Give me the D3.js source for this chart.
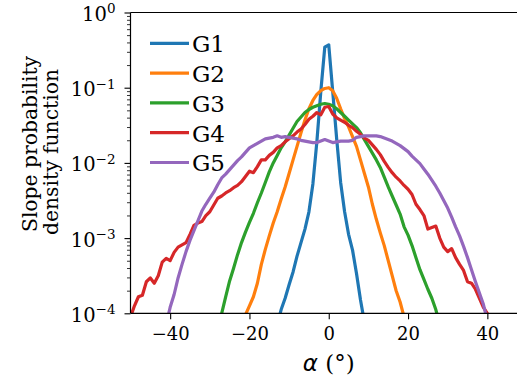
<!DOCTYPE html>
<html><head><meta charset="utf-8">
<script src="https://cdn.jsdelivr.net/npm/d3@7"></script>
<style>body{margin:0;background:#fff} svg{display:block}</style>
</head><body><svg id="c" width="517" height="381"></svg>
<script>
// ---- data (stored as log10 of the density) ----
const seriesNames = ["G1", "G2", "G3", "G4", "G5"];
const seriesColors = ["#1f77b4", "#ff7f0e", "#2ca02c", "#d62728", "#9467bd"];
// first slope angle (deg) of each series; samples are 1 deg apart
const seriesStartAlpha = [-13, -22, -28, -50, -42];
const g1Log10 = [-4.15,-3.95,-3.80,-3.62,-3.45,-3.24,-3.06,-2.88,-2.65,-2.28,-1.72,-1.05,-0.46,-0.43,-1.05,-1.68,-2.26,-2.65,-2.95,-3.16,-3.47,-3.82,-4.12];
const g2Log10 = [-4.25,-4.02,-3.90,-3.78,-3.60,-3.35,-3.15,-2.97,-2.80,-2.65,-2.48,-2.32,-2.14,-1.96,-1.78,-1.60,-1.43,-1.28,-1.17,-1.09,-1.04,-1.01,-1.00,-1.04,-1.14,-1.28,-1.41,-1.52,-1.65,-1.78,-1.96,-2.14,-2.32,-2.55,-2.75,-2.93,-3.10,-3.30,-3.50,-3.70,-3.85,-4.05,-4.30];
const g3Log10 = [-4.20,-4.00,-3.78,-3.57,-3.40,-3.22,-3.06,-2.92,-2.79,-2.67,-2.53,-2.40,-2.26,-2.12,-2.00,-1.90,-1.80,-1.72,-1.63,-1.54,-1.45,-1.39,-1.33,-1.29,-1.26,-1.24,-1.22,-1.21,-1.22,-1.24,-1.28,-1.33,-1.38,-1.43,-1.48,-1.53,-1.60,-1.69,-1.78,-1.87,-1.96,-2.06,-2.19,-2.32,-2.44,-2.56,-2.68,-2.85,-2.96,-3.10,-3.26,-3.42,-3.55,-3.68,-3.80,-3.95,-4.15];
const g4Log10 = [-4.05,-3.90,-3.78,-3.76,-3.58,-3.53,-3.60,-3.50,-3.32,-3.27,-3.30,-3.19,-3.12,-3.09,-3.06,-2.95,-2.83,-2.80,-2.78,-2.70,-2.65,-2.56,-2.47,-2.44,-2.40,-2.37,-2.33,-2.30,-2.25,-2.18,-2.11,-2.13,-2.05,-1.96,-1.96,-1.90,-1.86,-1.80,-1.77,-1.72,-1.68,-1.64,-1.59,-1.55,-1.49,-1.42,-1.38,-1.33,-1.36,-1.26,-1.25,-1.35,-1.40,-1.43,-1.46,-1.50,-1.53,-1.58,-1.62,-1.67,-1.70,-1.76,-1.82,-1.89,-1.98,-2.06,-2.13,-2.19,-2.24,-2.30,-2.35,-2.42,-2.55,-2.62,-2.70,-2.88,-2.86,-2.84,-3.00,-3.12,-3.18,-3.14,-3.26,-3.35,-3.43,-3.58,-3.60,-3.68,-3.80,-3.92,-4.00,-4.20];
const g5Log10 = [-4.35,-4.15,-3.92,-3.75,-3.53,-3.35,-3.18,-3.03,-2.90,-2.77,-2.64,-2.55,-2.47,-2.39,-2.29,-2.20,-2.15,-2.09,-2.03,-1.97,-1.92,-1.86,-1.80,-1.77,-1.74,-1.71,-1.68,-1.67,-1.66,-1.64,-1.66,-1.65,-1.66,-1.67,-1.68,-1.70,-1.71,-1.72,-1.73,-1.73,-1.71,-1.69,-1.71,-1.73,-1.72,-1.71,-1.71,-1.71,-1.70,-1.66,-1.65,-1.64,-1.64,-1.64,-1.64,-1.65,-1.67,-1.69,-1.71,-1.74,-1.77,-1.81,-1.85,-1.91,-1.96,-2.01,-2.08,-2.15,-2.23,-2.31,-2.40,-2.50,-2.60,-2.72,-2.85,-2.97,-3.11,-3.26,-3.42,-3.58,-3.73,-3.88,-4.10,-4.35];
const seriesLog10 = [g1Log10, g2Log10, g3Log10, g4Log10, g5Log10];
const xTicks = [-40, -20, 0, 20, 40];
const yTickExponents = [0, -1, -2, -3, -4];
const xDomain = [-50, 50];
const yDomain = [1e-4, 1];

// ---- layout ----
const svg = d3.select("#c");
const L = 130.5, R = 527, T = 12.5, B = 313.3;
const x = d3.scaleLinear().domain(xDomain).range([L, R]);
const y = d3.scaleLog().domain(yDomain).range([B, T]);
const serif = "DejaVu Serif";

svg.append("defs").append("clipPath").attr("id", "clip")
  .append("rect").attr("x", L).attr("y", T).attr("width", R - L).attr("height", B - T);

// curves
const line = d3.line().x(d => x(d.a)).y(d => y(d.v)).curve(d3.curveLinear);
const gLines = svg.append("g").attr("clip-path", "url(#clip)");
seriesNames.forEach((name, i) => {
  const pts = seriesLog10[i].map((e, k) => ({a: seriesStartAlpha[i] + k, v: Math.pow(10, e)}));
  gLines.append("path").datum(pts)
    .attr("d", line).attr("fill", "none")
    .attr("stroke", seriesColors[i]).attr("stroke-width", 3.2)
    .attr("stroke-linejoin", "round").attr("stroke-linecap", "square");
});

// x axis
const xAxis = svg.append("g").attr("transform", `translate(0,${B})`)
  .call(d3.axisBottom(x).tickValues(xTicks).tickSize(6).tickPadding(4)
    .tickFormat(d => d < 0 ? "\u2212" + Math.abs(d) : String(d)));
xAxis.select(".domain").remove();
xAxis.selectAll(".tick line").attr("stroke", "#000").attr("stroke-width", 1.1);
xAxis.selectAll(".tick text").attr("font-family", serif).attr("font-size", 18).attr("fill", "#000")
  .attr("dy", "0.95em");

// y axis major
const yAxis = svg.append("g").attr("transform", `translate(${L},0)`)
  .call(d3.axisLeft(y).tickValues(yTickExponents.map(e => Math.pow(10, e))).tickSize(6).tickPadding(9).tickFormat(""));
yAxis.select(".domain").remove();
yAxis.selectAll(".tick line").attr("stroke", "#000").attr("stroke-width", 1.1);
yAxis.selectAll(".tick text").each(function(d, i) {
  const t = d3.select(this);
  const e = Math.round(Math.log10(d));
  t.attr("font-family", serif).attr("fill", "#000").attr("dy", null).attr("y", 8).attr("x", -15);
  t.append("tspan").attr("font-size", 19.5).text("10");
  t.append("tspan").attr("font-size", 13.5).attr("dy", -7.7).text(e < 0 ? "\u2212" + Math.abs(e) : String(e));
});

// y axis minor
const minorVals = [];
yTickExponents.slice(1).forEach(e => { for (let m = 2; m <= 9; m++) minorVals.push(m * Math.pow(10, e)); });
const yMinor = svg.append("g").attr("transform", `translate(${L},0)`)
  .call(d3.axisLeft(y).tickValues(minorVals).tickSize(3.5).tickFormat(""));
yMinor.select(".domain").remove();
yMinor.selectAll(".tick line").attr("stroke", "#000").attr("stroke-width", 0.8);

// spines
const sp = svg.append("g").attr("stroke", "#000").attr("stroke-width", 1.2).attr("fill", "none");
sp.append("line").attr("x1", L).attr("x2", L).attr("y1", T).attr("y2", B);
sp.append("line").attr("x1", L).attr("x2", R).attr("y1", T).attr("y2", T);
sp.append("line").attr("x1", L).attr("x2", R).attr("y1", B).attr("y2", B);
sp.append("line").attr("x1", R).attr("x2", R).attr("y1", T).attr("y2", B);

// x label
const xl = svg.append("text").attr("x", (L + R) / 2).attr("y", 371)
  .attr("text-anchor", "middle").attr("font-family", serif).attr("font-size", 23).attr("fill", "#000");
xl.append("tspan").attr("font-family", "DejaVu Sans").attr("font-style", "italic").text("\u03b1");
xl.append("tspan").text(" (\u00b0)");

// y label (two lines)
svg.append("text").attr("transform", "translate(37,144) rotate(-90)")
  .attr("text-anchor", "middle").attr("font-family", serif).attr("font-size", 20.3).attr("fill", "#000")
  .text("Slope probability");
svg.append("text").attr("transform", "translate(57.5,152) rotate(-90)")
  .attr("text-anchor", "middle").attr("font-family", serif).attr("font-size", 20.3).attr("fill", "#000")
  .text("density function");

// legend
const leg = svg.append("g");
seriesNames.forEach((name, i) => {
  const yy = 43.3 + i * 29.8;
  leg.append("line").attr("x1", 150).attr("x2", 189).attr("y1", yy).attr("y2", yy)
    .attr("stroke", seriesColors[i]).attr("stroke-width", 3.2);
  leg.append("text").attr("x", 192).attr("y", yy + 8.8)
    .attr("font-family", serif).attr("font-size", 23).attr("fill", "#000").text(name);
});
</script></body></html>
